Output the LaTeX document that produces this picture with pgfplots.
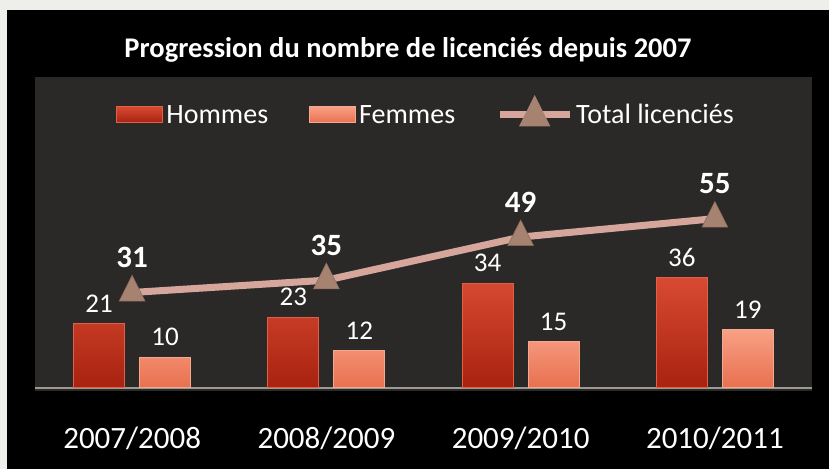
\documentclass[border=0pt]{standalone}
\usepackage{pgfplots}
\pgfplotsset{compat=1.18}
\usepackage{fontspec}
\setmainfont{Carlito}
\definecolor{bgframe}{HTML}{EEEEEA}
\definecolor{plotbg}{HTML}{2B2927}
\definecolor{homtop}{HTML}{D84A32}
\definecolor{homdark}{HTML}{A8220F}
\definecolor{homedge}{HTML}{E0604A}
\definecolor{femtop}{HTML}{F8A085}
\definecolor{femdark}{HTML}{E8704F}
\definecolor{femedge}{HTML}{F5A890}
\definecolor{totline}{HTML}{D6A69D}
\definecolor{totmark}{HTML}{A68270}
\definecolor{basel}{HTML}{9C9A92}
\begin{document}
\begin{tikzpicture}[x=1pt,y=1pt]
\fill[bgframe] (0,0) rectangle (829,469);
\fill[black] (7,0) rectangle (829,459);
\node[text=white, font=\fontsize{28.5}{32}\bfseries\selectfont] at (408,419) {Progression du nombre de licenciés depuis 2007};
\begin{axis}[at={(35pt,78pt)}, anchor=south west, scale only axis,
  width=777pt, height=314pt,
  xmin=-0.5, xmax=3.5, ymin=-1, ymax=101,
  axis background/.style={fill=plotbg},
  axis line style={draw=none},
  ytick=\empty,
  xtick={0,1,2,3},
  xticklabels={2007/2008,2008/2009,2009/2010,2010/2011},
  major tick length=0pt,
  xticklabel style={text=white, font=\fontsize{31}{34}\selectfont, anchor=center, yshift=-47pt},
  /pgf/number format/assume math mode=true,
  clip=false,
  legend columns=3,
  legend style={at={(0.504,0.936)}, anchor=north, draw=none, fill=none, text=white,
    font=\fontsize{28}{32}\selectfont, nodes={inner xsep=3pt},
    /tikz/every even column/.append style={column sep=38pt}},
]
\draw[basel, line width=2pt] (axis cs:-0.5,0) -- (axis cs:3.5,0);
\addplot[ybar, bar width=51pt, bar shift=-33pt, draw=homedge, line width=1pt,
  top color=homtop, bottom color=homdark,
  nodes near coords, nodes near coords style={text=white, font=\fontsize{27}{30}\selectfont, anchor=center, inner sep=0pt, xshift=-33pt, yshift=20pt},
  legend image code/.code={\shade[top color=homtop,bottom color=homdark] (0pt,-8pt) rectangle (46pt,8pt);}]
  coordinates {(0,21) (1,23) (2,34) (3,36)};
\addlegendentry{Hommes}
\addplot[ybar, bar width=51pt, bar shift=33pt, draw=femedge, line width=1pt,
  top color=femtop, bottom color=femdark,
  nodes near coords, nodes near coords style={text=white, font=\fontsize{27}{30}\selectfont, anchor=center, inner sep=0pt, xshift=33pt, yshift=20pt},
  legend image code/.code={\shade[top color=femtop,bottom color=femdark] (0pt,-8pt) rectangle (46pt,8pt);}]
  coordinates {(0,10) (1,12) (2,15) (3,19)};
\addlegendentry{Femmes}
\addplot[totline, line width=7pt, mark=triangle*, mark size=15pt,
  mark options={fill=totmark, draw=totmark!80!black, line width=0.5pt, yscale=1.15},
  nodes near coords, nodes near coords style={text=white, font=\fontsize{31}{34}\bfseries\selectfont, anchor=center, inner sep=0pt, yshift=35pt},
  legend image code/.code={\draw[totline, line width=7pt] (0pt,0pt) -- (70pt,0pt);
    \fill[totmark] (25pt,-8pt) -- (45pt,-8pt) -- (35pt,12pt) -- cycle;}]
  coordinates {(0,31) (1,35) (2,49) (3,55)};
\addlegendentry{Total licenciés}
\end{axis}
\end{tikzpicture}
\end{document}
